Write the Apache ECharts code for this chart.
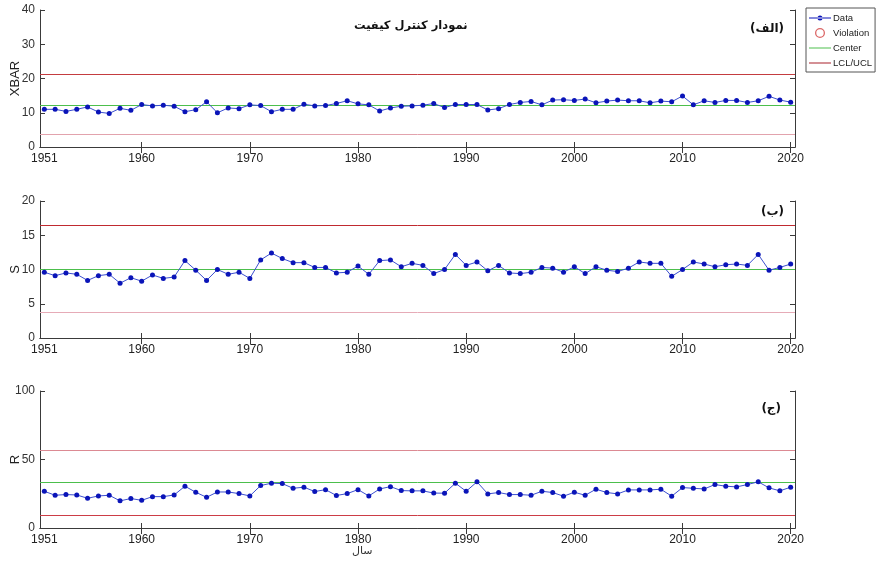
<!DOCTYPE html>
<html>
<head>
<meta charset="utf-8">
<script src="https://cdn.jsdelivr.net/npm/echarts@6/dist/echarts.min.js"></script>
<style>
  html, body { margin: 0; padding: 0; background: #fff; }
  #chart { width: 876px; height: 561px; }
</style>
</head>
<body>
<div id="chart"></div>
<script>
// سال ها
const years = [];
for (let y = 1951; y <= 2020; y++) years.push(y);

const xLabelYears = [1951, 1960, 1970, 1980, 1990, 2000, 2010, 2020];
const xTickYears = [1960, 1970, 1980, 1990, 2000, 2010, 2020];

// XBAR
const xbarValues = [
  11.0, 11.0, 10.4, 11.0, 11.7, 10.2, 9.8, 11.3, 10.7, 12.4,
  12.0, 12.2, 11.9, 10.3, 10.9, 13.2, 10.0, 11.4, 11.2, 12.3,
  12.1, 10.3, 11.0, 11.0, 12.5, 12.0, 12.1, 12.7, 13.5, 12.6,
  12.3, 10.5, 11.4, 11.9, 12.0, 12.2, 12.7, 11.5, 12.4, 12.4,
  12.4, 10.8, 11.2, 12.4, 13.0, 13.3, 12.3, 13.7, 13.8, 13.6,
  14.0, 12.9, 13.4, 13.7, 13.5, 13.5, 12.9, 13.4, 13.2, 14.9,
  12.3, 13.5, 13.0, 13.6, 13.6, 13.0, 13.5, 14.8, 13.7, 13.1
];

// S
const sValues = [
  9.6, 9.1, 9.5, 9.3, 8.4, 9.1, 9.3, 8.0, 8.8, 8.3,
  9.2, 8.7, 8.9, 11.3, 9.9, 8.4, 10.0, 9.3, 9.6, 8.7,
  11.4, 12.4, 11.6, 11.0, 11.0, 10.3, 10.3, 9.5, 9.6, 10.5,
  9.3, 11.3, 11.4, 10.4, 10.9, 10.6, 9.4, 10.0, 12.2, 10.6,
  11.1, 9.8, 10.6, 9.5, 9.4, 9.6, 10.3, 10.2, 9.6, 10.4,
  9.4, 10.4, 9.9, 9.7, 10.2, 11.1, 10.9, 10.9, 9.0, 10.0,
  11.1, 10.8, 10.4, 10.7, 10.8, 10.6, 12.2, 9.9, 10.3, 10.8
];

// R
const rValues = [
  26.8, 23.9, 24.4, 24.1, 21.7, 23.4, 23.9, 19.8, 21.5, 20.2,
  22.9, 22.9, 24.1, 30.5, 26.1, 22.4, 26.3, 26.3, 25.1, 23.4,
  31.0, 32.7, 32.4, 29.0, 29.8, 26.6, 28.0, 23.7, 25.1, 28.0,
  23.4, 28.5, 30.2, 27.3, 27.1, 27.1, 25.5, 25.4, 32.7, 26.8,
  33.7, 24.9, 25.9, 24.4, 24.4, 23.9, 26.8, 25.9, 23.2, 26.1,
  23.9, 28.3, 25.9, 24.9, 27.8, 27.8, 27.8, 28.3, 23.2, 29.5,
  29.0, 28.5, 31.7, 30.5, 30.0, 31.7, 33.7, 29.3, 27.1, 29.8
];

// حدود کنترل [LCL, Center, UCL]
const xbarLimits = [3.7, 12.3, 21.2];
const sLimits = [3.7, 10.0, 16.4];
const rLimits = [9.3, 33.2, 57.1];

const yNames = ['XBAR', 'S', 'R'];
const yMax = [40, 20, 100];
const yInterval = [10, 5, 50];
const panelTags = ['(الف)', '(ب)', '(ج)'];

const chart = echarts.init(document.getElementById('chart'));

const gridTops = [10, 201, 391];
const gridH = 137;
const font = 'Liberation Sans, Arial, sans-serif';
const axisColor = '#3a3a3a';

const grids = [], xAxes = [], yAxes = [], series = [];

const panels = [
  { vals: xbarValues, lim: xbarLimits, ucl: '#c43c40', lcl: '#e2a3ad' },
  { vals: sValues, lim: sLimits, ucl: '#c02a30', lcl: '#e6abb7' },
  { vals: rValues, lim: rLimits, ucl: '#dc8a93', lcl: '#cc3d46' }
];

panels.forEach((p, i) => {
  grids.push({ left: 40, right: 81, top: gridTops[i], height: gridH, show: false,
    containLabel: false, outerBoundsMode: 'none' });

  // محور پایین
  xAxes.push({
    type: 'value', gridIndex: i, min: 1950.6, max: 2020.4, position: 'bottom',
    axisLine: { show: true, lineStyle: { color: axisColor, width: 1 } },
    axisTick: { show: true, inside: true, length: 5, customValues: xTickYears, lineStyle: { color: axisColor } },
    axisLabel: { show: true, customValues: xLabelYears, formatter: v => String(v),
      color: '#222', fontSize: 12, fontFamily: font, margin: 6 },
    splitLine: { show: false }
  });
  // محور بالا (آینه)
  xAxes.push({
    type: 'value', gridIndex: i, min: 1950.6, max: 2020.4, position: 'top',
    axisLine: { show: true, lineStyle: { color: axisColor, width: 1 } },
    axisTick: { show: true, inside: true, length: 6, customValues: xTickYears, lineStyle: { color: axisColor } },
    axisLabel: { show: false },
    splitLine: { show: false }
  });
  // محور چپ
  yAxes.push({
    type: 'value', gridIndex: i, min: 0, max: yMax[i], interval: yInterval[i], position: 'left',
    name: yNames[i], nameLocation: 'middle', nameGap: 18, nameRotate: 90, nameMoveOverlap: false,
    nameTextStyle: { color: '#222', fontSize: 13, fontFamily: font },
    axisLine: { show: true, lineStyle: { color: axisColor, width: 1 } },
    axisTick: { show: true, inside: true, length: 5, lineStyle: { color: axisColor } },
    axisLabel: { color: '#333', fontSize: 12, fontFamily: font, margin: 5 },
    splitLine: { show: false }
  });
  // محور راست (آینه)
  yAxes.push({
    type: 'value', gridIndex: i, min: 0, max: yMax[i], interval: yInterval[i], position: 'right',
    axisLine: { show: true, lineStyle: { color: axisColor, width: 1 } },
    axisTick: { show: true, inside: true, length: 5, lineStyle: { color: axisColor } },
    axisLabel: { show: false },
    splitLine: { show: false }
  });

  const xi = i * 2, yi = i * 2;

  series.push({
    name: 'LCL/UCL', type: 'line', xAxisIndex: xi, yAxisIndex: yi, data: [],
    symbol: 'none', lineStyle: { color: '#b22a30', width: 1 }, itemStyle: { color: '#b22a30' },
    markLine: {
      silent: true, symbol: 'none', label: { show: false },
      data: [
        { yAxis: p.lim[2], lineStyle: { color: p.ucl, width: 1, type: 'solid' } },
        { yAxis: p.lim[0], lineStyle: { color: p.lcl, width: 1, type: 'solid' } }
      ]
    }
  });
  series.push({
    name: 'Center', type: 'line', xAxisIndex: xi, yAxisIndex: yi, data: [],
    symbol: 'none', lineStyle: { color: '#4cc04c', width: 1 }, itemStyle: { color: '#4cc04c' },
    markLine: {
      silent: true, symbol: 'none', label: { show: false },
      data: [{ yAxis: p.lim[1], lineStyle: { color: '#4cbf4c', width: 1, type: 'solid' } }]
    }
  });
  series.push({
    name: 'Data', type: 'line', xAxisIndex: xi, yAxisIndex: yi, z: 5,
    data: years.map((y, k) => [y, p.vals[k]]),
    symbol: 'circle', symbolSize: 5,
    lineStyle: { color: '#3c4fd0', width: 1 },
    itemStyle: { color: '#0a14b8' }
  });
  series.push({
    name: 'Violation', type: 'scatter', xAxisIndex: xi, yAxisIndex: yi, data: [],
    symbol: 'circle', symbolSize: 8,
    itemStyle: { color: '#d24040' }
  });
});

const lineIcon = 'path://M0,4.5H22V5.5H0Z';
const dataIcon = 'path://M0,4.5H22V5.5H0Z M8.5,5a2.5,2.5 0 1,0 5,0a2.5,2.5 0 1,0 -5,0Z';
const ringIcon = 'path://M7.5,5a3.5,3.5 0 1,0 7,0a3.5,3.5 0 1,0 -7,0Z M8.4,5a2.6,2.6 0 1,1 5.2,0a2.6,2.6 0 1,1 -5.2,0Z';

const option = {
  backgroundColor: '#fff',
  animation: false,
  grid: grids,
  xAxis: xAxes,
  yAxis: yAxes,
  legend: {
    data: [
      { name: 'Data', icon: dataIcon, itemStyle: { color: '#0a14b8' } },
      { name: 'Violation', icon: ringIcon, itemStyle: { color: '#d24040' } },
      { name: 'Center', icon: lineIcon, itemStyle: { color: '#4cbf4c' } },
      { name: 'LCL/UCL', icon: lineIcon, itemStyle: { color: '#a8202a' } }
    ],
    orient: 'vertical', left: 806, top: 8,
    itemWidth: 22, itemHeight: 10, itemGap: 5,
    padding: [5, 3, 4, 3],
    borderColor: '#555', borderWidth: 1, borderRadius: 0,
    textStyle: { fontSize: 9.5, fontFamily: 'Liberation Sans, Arial, sans-serif', color: '#222', padding: [0, 0, 0, -3] },
    selectedMode: false
  },
  graphic: [
    { type: 'text', left: 354, top: 20,
      style: { text: 'نمودار کنترل کیفیت', font: 'bold 11.5px "DejaVu Sans", sans-serif', fill: '#111' } },
    { type: 'text', right: 92, top: 23,
      style: { text: panelTags[0], font: 'bold 12px "DejaVu Sans", sans-serif', fill: '#111' } },
    { type: 'text', right: 92, top: 206,
      style: { text: panelTags[1], font: 'bold 12px "DejaVu Sans", sans-serif', fill: '#111' } },
    { type: 'text', right: 95, top: 403,
      style: { text: panelTags[2], font: 'bold 12px "DejaVu Sans", sans-serif', fill: '#111' } },
    { type: 'text', left: 352, top: 546,
      style: { text: 'سال', font: '11px "DejaVu Sans", sans-serif', fill: '#333' } }
  ],
  series: series
};

chart.setOption(option);
window.addEventListener('resize', () => chart.resize());
</script>
</body>
</html>
